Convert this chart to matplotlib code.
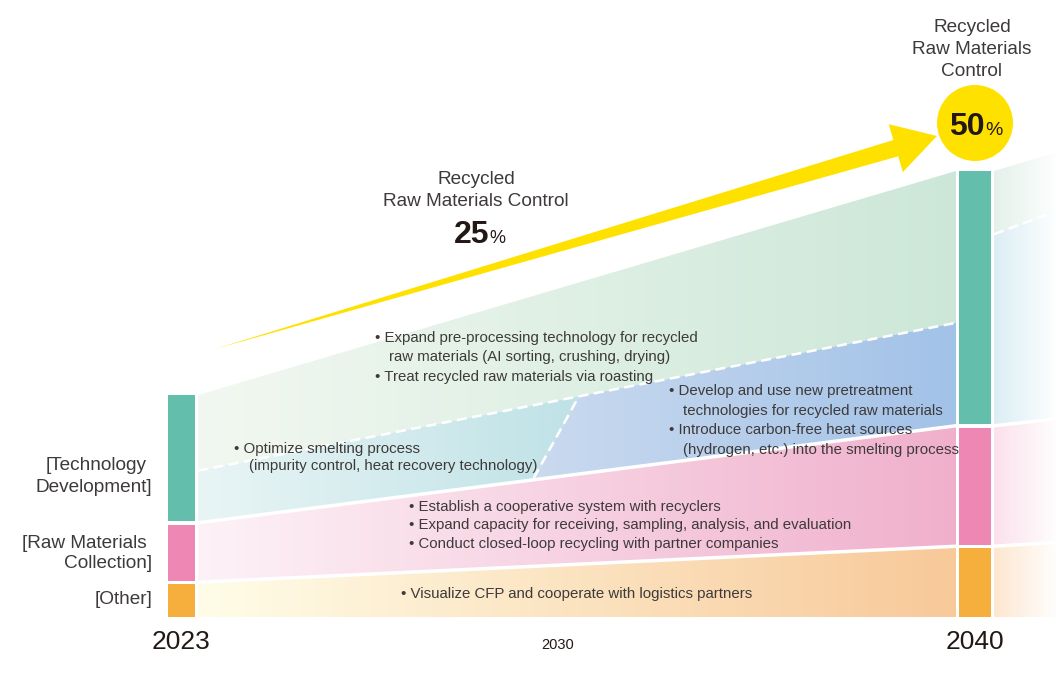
import matplotlib
matplotlib.use('Agg')
import matplotlib.pyplot as plt
import matplotlib.transforms as mtransforms
from matplotlib.colors import to_rgb
from matplotlib.patches import Polygon, Circle
import numpy as np

plt.rcParams['font.family'] = ['Liberation Sans', 'DejaVu Sans']

W, H = 1056, 677

# ---------------- data ----------------
years = [2023, 2040]
tick_years = [2023, 2030, 2040]
tick_labels = ['2023', '2030', '2040']
tick_sizes = [19, 10.5, 19]
tick_pads = [9.5, 15.0, 9.5]

# stacked shares (drawn height) at 2023 and 2040
other = [33, 69]
collection = [56, 117]
technology = [126, 253]
gap = 3.5
# part of technology band below the dashed line
tech_split = [0.40, 0.40]
# slanted dashed line (bottom year, top year) around 2030
switch_years = [2029.55, 2030.5]

# beyond 2040 (fading extension)
ext_years = [2040, 2042]
ext_other = [69, 73]
ext_collection = [117, 120]
ext_technology = [253, 265]
ext_split = [0.75, 0.78]

bar_w = [0.50, 0.77]
x_gap = [0.06, 0.07]

bar_colors = {'tech': '#63bfab', 'coll': '#ee87b4', 'other': '#f6ae3d'}
text_color = '#3e3a39'
dark = '#231815'
yellow = '#ffe100'

# timeline positions (pixel layout of the original)
tl_years = [2023, 2030, 2040]
tl_pos = [181.5, 558.0, 975.0]
s1 = (tl_pos[1] - tl_pos[0]) / (tl_years[1] - tl_years[0])
s2 = (tl_pos[2] - tl_pos[1]) / (tl_years[2] - tl_years[1])


def fwd(x):
    x = np.asarray(x, float)
    return np.where(x < tl_years[1], tl_pos[0] + (x - tl_years[0]) * s1,
                    tl_pos[1] + (x - tl_years[1]) * s2)


def inv(p):
    p = np.asarray(p, float)
    return np.where(p < tl_pos[1], tl_years[0] + (p - tl_pos[0]) / s1,
                    tl_years[1] + (p - tl_pos[1]) / s2)


def stack(o, c, t, f):
    o_top = o
    c_bot = o + gap
    c_top = c_bot + c
    t_bot = c_top + gap
    t_top = t_bot + t
    split = t_bot + f * t
    return dict(o_top=o_top, c_bot=c_bot, c_top=c_top, t_bot=t_bot, t_top=t_top, split=split)


fig = plt.figure(figsize=(W / 100, H / 100), dpi=100)
ax = fig.add_axes([0, (H - 617) / H, 1, 617 / H])
ax.set_xscale('function', functions=(fwd, inv))
ax.set_xlim(float(inv(0)), float(inv(W)))
ax.set_ylim(0, 617)
for sp in ax.spines.values():
    sp.set_visible(False)
ax.set_yticks([])
ax.set_xticks(tick_years, tick_labels)
ax.tick_params(axis='x', length=0, colors=dark)
for tk, fs, pd in zip(ax.xaxis.get_major_ticks(), tick_sizes, tick_pads):
    tk.label1.set_fontsize(fs)
    tk.set_pad(pd)

px_tr = mtransforms.Affine2D().scale(1 / W, -1 / H).translate(0, 1) + fig.transFigure
to_axes = ax.transScale + ax.transLimits


def grad_fill(verts, stops):
    poly = Polygon(verts, closed=True, facecolor='none', edgecolor='none')
    ax.add_patch(poly)
    xs = [v[0] for v in verts]
    a0 = to_axes.transform((min(xs), 0))[0]
    a1 = to_axes.transform((max(xs), 0))[0]
    t = np.linspace(0, 1, 256)
    pos = np.array([s[0] for s in stops])
    cols = np.array([to_rgb(s[1]) for s in stops])
    img = np.stack([np.interp(t, pos, cols[:, k]) for k in range(3)], axis=-1)[None, :, :]
    im = ax.imshow(img, extent=[a0, a1, 0, 1], transform=ax.transAxes,
                   aspect='auto', interpolation='bilinear', zorder=1)
    im.set_clip_path(poly)


def y_on(xq, xa, ya, xb, yb):
    t = (fwd(xq) - fwd(xa)) / (fwd(xb) - fwd(xa))
    return float(ya + t * (yb - ya))


L = stack(other[0], collection[0], technology[0], tech_split[0])
R = stack(other[1], collection[1], technology[1], tech_split[1])
bx0 = years[0] + bar_w[0] / 2 + x_gap[0]
bx1 = years[1] - bar_w[1] / 2 - x_gap[1]

# slanted switch line
sb_x, st_x = switch_years
sb_y = y_on(sb_x, bx0, L['t_bot'], bx1, R['t_bot'])
st_y = y_on(st_x, bx0, L['split'], bx1, R['split'])

# main bands
grad_fill([(bx0, L['split']), (bx0, L['t_top']), (bx1, R['t_top']), (bx1, R['split'])],
          [(0, '#f2f8f1'), (1, '#cce7d8')])
grad_fill([(bx0, L['t_bot']), (bx0, L['split']), (st_x, st_y), (sb_x, sb_y)],
          [(0, '#e9f5f5'), (1, '#bfe2e7')])
grad_fill([(sb_x, sb_y), (st_x, st_y), (bx1, R['split']), (bx1, R['t_bot'])],
          [(0, '#cadaef'), (1, '#a2c2e8')])
grad_fill([(bx0, L['c_bot']), (bx0, L['c_top']), (bx1, R['c_top']), (bx1, R['c_bot'])],
          [(0, '#fdf2f7'), (1, '#f0b0cc')])
grad_fill([(bx0, 0), (bx0, L['o_top']), (bx1, R['o_top']), (bx1, 0)],
          [(0, '#fffde8'), (1, '#f8c999')])

# extension after 2040
E0 = stack(ext_other[0], ext_collection[0], ext_technology[0], ext_split[0])
E1 = stack(ext_other[1], ext_collection[1], ext_technology[1], ext_split[1])
ex0 = ext_years[0] + bar_w[1] / 2 + x_gap[1]
ex1 = ext_years[1]
grad_fill([(ex0, E0['split']), (ex0, E0['t_top']), (ex1, E1['t_top']), (ex1, E1['split'])],
          [(0, '#e4f1ea'), (1, '#ffffff')])
grad_fill([(ex0, E0['t_bot']), (ex0, E0['split']), (ex1, E1['split']), (ex1, E1['t_bot'])],
          [(0, '#dbeef5'), (1, '#ffffff')])
grad_fill([(ex0, E0['c_bot']), (ex0, E0['c_top']), (ex1, E1['c_top']), (ex1, E1['c_bot'])],
          [(0, '#fbe1ec'), (1, '#ffffff')])
grad_fill([(ex0, 0), (ex0, E0['o_top']), (ex1, E1['o_top']), (ex1, 0)],
          [(0, '#fde7d0'), (1, '#ffffff')])

# dashed white lines
dash_kw = dict(color='white', lw=1.8, dashes=(4, 2.2), zorder=2, solid_capstyle='butt')
ax.plot([bx0, bx1], [L['split'], R['split']], **dash_kw)
ax.plot([sb_x, st_x], [sb_y, st_y], **dash_kw)
ax.plot([ex0, ex1], [E0['split'], E1['split']], **dash_kw)

# bars
bot_c = [o + gap for o in other]
bot_t = [o + gap + c + gap for o, c in zip(other, collection)]
ax.bar(years, other, width=bar_w, color=bar_colors['other'], zorder=3)
ax.bar(years, collection, width=bar_w, bottom=bot_c, color=bar_colors['coll'], zorder=3)
ax.bar(years, technology, width=bar_w, bottom=bot_t, color=bar_colors['tech'], zorder=3)

# yellow arrow 25% -> 50%
arrow_tail = np.array([215.0, 349.0])
arrow_tip = np.array([937.0, 136.0])
head_len, head_half, shaft_half = 43.0, 25.0, 8.5
u = (arrow_tip - arrow_tail) / np.linalg.norm(arrow_tip - arrow_tail)
n = np.array([-u[1], u[0]])
base = arrow_tip - head_len * u
arrow_pts = [arrow_tail, base - shaft_half * n, base - head_half * n, arrow_tip,
             base + head_half * n, base + shaft_half * n]
ax.add_patch(Polygon(arrow_pts, closed=True, facecolor=yellow, edgecolor='none',
                     transform=px_tr, zorder=4, clip_on=False))
ax.add_patch(Circle((float(fwd(2040)), 123), 38, facecolor=yellow, edgecolor='none',
                    transform=px_tr, zorder=4, clip_on=False))


def txt(x, y, s, **kw):
    kw.setdefault('color', text_color)
    kw.setdefault('va', 'center')
    ax.text(x, y, s, transform=px_tr, zorder=5, clip_on=False, **kw)


# headline texts
txt(476, 180, 'Recycled', ha='center', fontsize=13.7)
txt(476, 202, 'Raw Materials Control', ha='center', fontsize=13.7)
txt(489, 243, '25', ha='right', va='baseline', fontsize=23, fontweight='bold', color=dark)
txt(489, 243, '%', ha='left', va='baseline', fontsize=13, color=dark)
txt(972, 27, 'Recycled', ha='center', fontsize=13.7)
txt(972, 49, 'Raw Materials', ha='center', fontsize=13.7)
txt(972, 71, 'Control', ha='center', fontsize=13.7)
txt(985, 135, '50', ha='right', va='baseline', fontsize=23, fontweight='bold', color=dark)
txt(985, 135, '%', ha='left', va='baseline', fontsize=14, color=dark)

# category labels
txt(147, 466, '[Technology', ha='right', fontsize=13.7)
txt(152, 487, 'Development]', ha='right', fontsize=13.7)
txt(147, 543, '[Raw Materials', ha='right', fontsize=13.7)
txt(152, 564, 'Collection]', ha='right', fontsize=13.7)
txt(152, 600, '[Other]', ha='right', fontsize=13.7)

# measures
bullets = [
    (375, 338, '\u2022 Expand pre-processing technology for recycled'),
    (389, 357, 'raw materials (AI sorting, crushing, drying)'),
    (375, 377, '\u2022 Treat recycled raw materials via roasting'),
    (234, 449, '\u2022 Optimize smelting process'),
    (249, 466, '(impurity control, heat recovery technology)'),
    (669, 391, '\u2022 Develop and use new pretreatment'),
    (683, 411, 'technologies for recycled raw materials'),
    (669, 430, '\u2022 Introduce carbon-free heat sources'),
    (683, 450, '(hydrogen, etc.) into the smelting process'),
    (409, 507, '\u2022 Establish a cooperative system with recyclers'),
    (409, 525, '\u2022 Expand capacity for receiving, sampling, analysis, and evaluation'),
    (409, 544, '\u2022 Conduct closed-loop recycling with partner companies'),
    (401, 594, '\u2022 Visualize CFP and cooperate with logistics partners'),
]
for bx, by, s in bullets:
    txt(bx, by, s, ha='left', fontsize=10.8)

plt.savefig('out.png', dpi=100)
